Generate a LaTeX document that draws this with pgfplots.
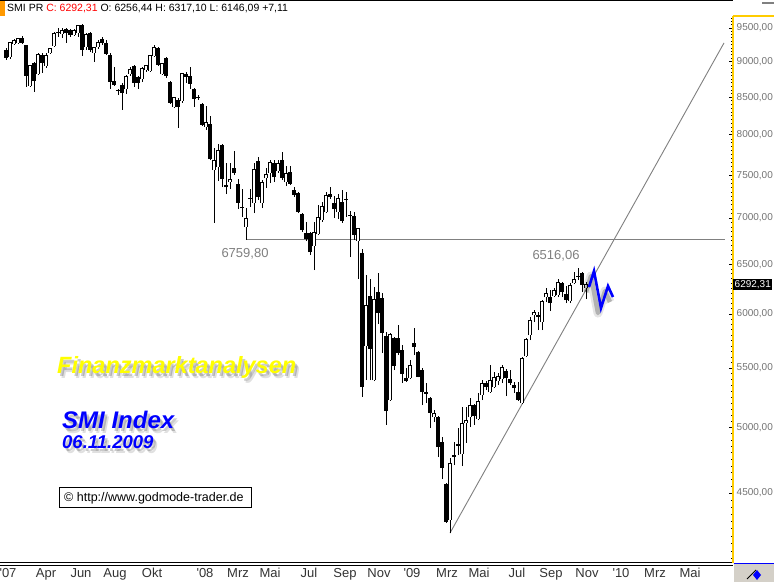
\documentclass[border=0pt]{standalone}
\usepackage{pgfplots}
\pgfplotsset{compat=1.18}
\usepackage{pgfplotstable}
\usepackage{fontspec}
\setmainfont{Liberation Sans}
\definecolor{tickgray}{RGB}{115,115,115}
\definecolor{linegray}{RGB}{128,128,128}
\definecolor{axisyellow}{RGB}{255,204,0}
\definecolor{hdrorange}{RGB}{255,153,0}
\definecolor{boxgray}{RGB}{212,208,200}
\definecolor{txtblue}{RGB}{0,0,255}
\definecolor{txtyellow}{RGB}{255,255,0}

% weekly candles, n = week index (1 = 2nd week of Jan 2007)
\pgfplotstableread{
n O H L C
2 9068 9280 9039 9274
3 9264 9334 9244 9304
4 9274 9349 9259 9334
7 8655 8952 8641 8938
9 8823 9126 8809 9097
11 8938 9126 8909 9082
12 9126 9199 9112 9185
13 9229 9440 9214 9410
15 9410 9500 9349 9455
18 9395 9485 9379 9455
19 9425 9546 9364 9531
21 9214 9425 9170 9395
23 9126 9214 8995 9199
24 9214 9319 9185 9274
31 8613 8809 8544 8781
32 8823 8923 8795 8880
35 8752 8923 8710 8895
36 8880 8952 8852 8938
37 8866 9097 8852 9082
38 9082 9244 9068 9199
40 8823 8981 8809 8966
43 8368 8503 8354 8489
45 8449 8837 8422 8823
51 8103 8381 8064 8155
53 7562 7834 6945 7684
54 7598 7885 7429 7809
57 7417 7647 7335 7453
61 6900 7114 6759.8 7000
63 7172 7647 7057 7574
65 7172 7441 7114 7417
66 7465 7586 7347 7502
67 7526 7684 7405 7660
69 7550 7684 7526 7647
71 7417 7611 7370 7514
78 6692 6956 6439 6834
79 6823 7149 6815 7011
80 6978 7183 6956 7137
81 7068 7300 7057 7253
84 7068 7276 6989 7229
89 6746 6889 6346 6878
91 5698 6388 5396 6087
93 5396 6265 5387 6146
97 5225 5819 5218 5810
102 5413 5572 5404 5519
108 5084 5142 5044 5117
112 4309 4760 4220 4715
115 4791 5167 4699 5028
116 5036 5167 4877 5060
117 5084 5242 5003 5183
119 5068 5285 5060 5217
120 5268 5396 5225 5370
122 5293 5528 5285 5396
123 5336 5466 5327 5422
124 5387 5457 5353 5431
125 5404 5528 5370 5510
130 5200 5598 5192 5590
131 5608 5772 5599 5763
132 5800 5971 5754 5942
133 5990 6038 5923 6019
135 5923 6136 5847 6126
136 6165 6255 6116 6205
138 6175 6255 6165 6235
139 6185 6346 6165 6316
142 6126 6306 6107 6285
143 6310 6418 6295 6340
146 6256.44 6317.10 6146.09 6292.31
}\upcandles

\pgfplotstableread{
n O H L C
1 9170 9199 9024 9053
5 9349 9379 9259 9274
6 9244 9250 8641 8795
8 8981 8995 8572 8724
10 9097 9126 8837 8981
14 9440 9500 9364 9430
16 9485 9500 9274 9425
17 9470 9485 9364 9395
20 9546 9561 9082 9170
22 9425 9440 9141 9170
25 9334 9364 9244 9274
26 9274 9319 9097 9112
27 9097 9126 8613 8710
28 8724 8923 8655 8669
29 8599 8613 8531 8585
30 8669 8696 8327 8558
33 8938 8952 8641 8696
34 8781 8795 8613 8696
39 9199 9214 8938 8952
41 9053 9068 8766 8795
42 8710 8724 8408 8422
44 8462 8489 8090 8368
46 8823 8852 8696 8781
47 8795 8923 8613 8683
48 8613 8627 8368 8476
49 8503 8531 8462 8489
50 8408 8415 8116 8129
52 8142 8247 7684 7697
55 7872 7885 7358 7453
56 7382 7647 7276 7358
58 7586 7797 7502 7526
59 7394 7453 7102 7172
60 7126 7335 7011 7114
62 7229 7335 7126 7218
64 7672 7722 7206 7241
68 7647 7684 7417 7477
70 7684 7784 7441 7465
72 7538 7611 7382 7394
73 7323 7358 7241 7264
74 7288 7295 7057 7068
75 7045 7057 6845 6867
76 6834 6956 6746 6768
77 6834 6840 6596 6628
82 7276 7358 7218 7241
83 7172 7253 7000 7102
85 7183 7323 6945 6967
86 7222 7300 7011 7212
87 7038 7080 6575 7028
88 7022 7068 6757 6812
90 6617 6660 5251 5336
92 6175 6346 5396 5671
94 6215 6408 5904 6009
95 6156 6205 5635 5819
96 5791 5828 5020 5134
98 5772 5782 5483 5519
99 5772 5894 5617 5635
100 5662 5708 5370 5448
101 5413 5501 5379 5387
103 5726 5866 5617 5689
104 5644 5650 5420 5422
105 5483 5501 5183 5293
106 5289 5370 5200 5280
107 5242 5248 4995 5118
109 5084 5090 4768 4845
110 4884 4924 4602 4684
111 4566 4572 4290 4295
113 4780 4884 4707 4772
114 4865 4995 4783 4857
118 5183 5192 5020 5093
121 5370 5387 5310 5336
126 5474 5492 5259 5413
127 5404 5483 5353 5370
128 5353 5379 5285 5327
129 5293 5379 5218 5225
134 5990 6019 5847 5971
137 6165 6235 6028 6107
140 6306 6316 6165 6215
141 6195 6275 6107 6136
144 6380 6465 6336 6370
145 6408 6415 6215 6285
}\downcandles

\begin{document}
\begin{tikzpicture}[x=1pt,y=1pt]
\useasboundingbox (0,0) rectangle (774,582);
\fill[white] (0,0) rectangle (774,582);

% left-edge small ticks
\begin{axis}[
  at={(0pt,19pt)}, anchor=south west,
  width=733pt, height=547pt, scale only axis,
  ymode=log, xmin=0, xmax=1, ymin=4022, ymax=9685,
  axis y line*=left, axis x line=none,
  y axis line style={draw=none},
  ytick=\empty,
  minor ytick={4000,4083.333,...,9700},
  tick align=inside, minor tick length=3pt,
  tick style={black, line width=0.8pt},
]
\end{axis}

\begin{axis}[
  at={(0pt,19pt)}, anchor=south west,
  width=733pt, height=547pt, scale only axis,
  ymode=log,
  xmin=-0.5, xmax=182.75, ymin=4022, ymax=9685,
  axis x line*=bottom, axis y line*=right,
  x axis line style={black, line width=1pt, -},
  y axis line style={axisyellow, line width=1.2pt, -},
  xtick={1.5,11,19.75,28.25,37.5,50.75,59,67,76.75,85.75,94.25,102.5,111.25,119.25,128.75,137.25,146.25,154.75,163.25,172},
  xticklabels={{\textquotesingle07},Apr,Jun,Aug,Okt,{\textquotesingle08},Mrz,Mai,Jul,Sep,Nov,{\textquotesingle09},Mrz,Mai,Jul,Sep,Nov,{\textquotesingle10},Mrz,Mai},
  ytick={4500,5000,...,9500},
  yticklabels={{4500,00},{5000,00},{5500,00},{6000,00},{6500,00},{7000,00},{7500,00},{8000,00},{8500,00},{9000,00},{9500,00}},
  minor ytick={4050,4100,...,9650},
  tick align=inside,
  major tick length=4.5pt, minor tick length=2.5pt,
  tick style={black, line width=0.8pt},
  xtick style={draw=none},
  yticklabel style={font=\fontsize{10}{10}\selectfont, text=tickgray, inner sep=0pt, xshift=3.5pt},
  xticklabel style={font=\fontsize{13}{13}\selectfont, text=black!80, inner sep=0pt, yshift=-5pt},
  clip mode=individual,
]
% support line and trend line
\addplot[linegray, line width=0.9pt, forget plot] coordinates {(61,6759.8) (180.75,6759.8)};
\addplot[linegray, line width=0.9pt, forget plot] coordinates {(112,4220) (180.5,9274)};

% wicks
\addplot[draw=none, mark=none, forget plot,
  error bars/.cd, y dir=plus, y explicit, error mark=none,
  error bar style={draw=black, line width=1pt}]
  table[x=n, y=L, y error plus expr=\thisrow{H}-\thisrow{L}] {\upcandles};
\addplot[draw=none, mark=none, forget plot,
  error bars/.cd, y dir=plus, y explicit, error mark=none,
  error bar style={draw=black, line width=1pt}]
  table[x=n, y=L, y error plus expr=\thisrow{H}-\thisrow{L}] {\downcandles};
% filled (falling) bodies
\addplot[draw=none, mark=none, forget plot,
  error bars/.cd, y dir=plus, y explicit, error mark=none,
  error bar style={draw=black, line width=3.2pt}]
  table[x=n, y=C, y error plus expr=\thisrow{O}-\thisrow{C}] {\downcandles};
% hollow (rising) bodies: black frame, white inside, black caps
\addplot[draw=none, mark=none, forget plot,
  error bars/.cd, y dir=plus, y explicit, error mark=none,
  error bar style={draw=black, line width=3.2pt}]
  table[x=n, y=O, y error plus expr=\thisrow{C}-\thisrow{O}] {\upcandles};
\addplot[draw=none, mark=none, forget plot,
  error bars/.cd, y dir=plus, y explicit, error mark=|,
  error bar style={draw=white, line width=1.2pt},
  error mark options={draw=black, line width=1pt, mark size=1.6pt}]
  table[x=n, y=O, y error plus expr=\thisrow{C}-\thisrow{O}] {\upcandles};

% projected path (blue zigzag) with soft shadow
\addplot[black, opacity=0.10, line width=9pt, line join=round, xshift=-3pt, yshift=-5pt, forget plot]
  coordinates {(146.75,6265) (148,6429) (149.75,6058) (151.5,6275) (152.75,6166)};
\addplot[black, opacity=0.22, line width=4.5pt, line join=round, xshift=-3pt, yshift=-5pt, forget plot]
  coordinates {(146.75,6265) (148,6429) (149.75,6058) (151.5,6275) (152.75,6166)};
\addplot[txtblue, line width=2.6pt, line join=miter, forget plot]
  coordinates {(146.75,6265) (148,6429) (149.75,6058) (151.5,6275) (152.75,6166)};

\node[text=linegray, font=\fontsize{13}{13}\selectfont, inner sep=0pt] at (axis cs:60.75,6607) {6759,80};
\node[text=linegray, font=\fontsize{13}{13}\selectfont, inner sep=0pt] at (axis cs:138.5,6586) {6516,06};
\node[fill=black, text=white, font=\fontsize{10}{10}\selectfont, inner xsep=1.5pt, inner ysep=1.5pt, anchor=west] at (axis cs:182.75,6292.31) {6292,31};
\end{axis}

% second bottom line
\draw[black, line width=1pt] (0,17) -- (733,17);
% header
\fill[hdrorange] (0,566) rectangle (5,582);
\draw[black, line width=0.8pt] (0,581.6) -- (733,581.6);
\node[anchor=base west, inner sep=0pt, font=\fontsize{10.5}{10.5}\selectfont] at (7,570)
  {SMI PR \textcolor{red}{C: 6292,31} O: 6256,44 H: 6317,10 L: 6146,09 +7,11};
\draw[axisyellow, line width=1.2pt] (733,566) -- (774,566);
\fill[linegray] (762,578) rectangle (774,580);
% bottom right button
\fill[boxgray] (733.6,0) rectangle (774,18);
\draw[txtblue, line width=1.5pt] (733.6,18.5) -- (774,18.5);
\draw[black, line width=0.8pt] (747,3) -- (756,12);
\fill[txtblue] (753,7) -- (757,12) -- (761,7) -- (757,2) -- cycle;

% overlay texts with soft shadows
\foreach \dx/\dy/\op in {4/-5/0.12, 2.5/-3.5/0.2}{
  \node[anchor=base west, inner sep=0pt, text=black, opacity=\op, font=\fontsize{23.5}{23.5}\selectfont\bfseries\itshape] at (57+\dx,209+\dy) {Finanzmarktanalysen};
  \node[anchor=base west, inner sep=0pt, text=black, opacity=\op, font=\fontsize{24}{24}\selectfont\bfseries\itshape] at (62+\dx,154+\dy) {SMI Index};
  \node[anchor=base west, inner sep=0pt, text=black, opacity=\op, font=\fontsize{18.5}{18.5}\selectfont\bfseries\itshape] at (62+\dx,134+\dy) {06.11.2009};
}
\node[anchor=base west, inner sep=0pt, text=txtyellow, font=\fontsize{23.5}{23.5}\selectfont\bfseries\itshape] at (57,209) {Finanzmarktanalysen};
\node[anchor=base west, inner sep=0pt, text=txtblue, font=\fontsize{24}{24}\selectfont\bfseries\itshape] at (62,154) {SMI Index};
\node[anchor=base west, inner sep=0pt, text=txtblue, font=\fontsize{18.5}{18.5}\selectfont\bfseries\itshape] at (62,134) {06.11.2009};

\draw[black, line width=1pt, fill=white] (59,75) rectangle (251,95);
\node[anchor=base west, inner sep=0pt, font=\fontsize{12.5}{12.5}\selectfont] at (64,80.5) {© http://www.godmode-trader.de};
\end{tikzpicture}
\end{document}
